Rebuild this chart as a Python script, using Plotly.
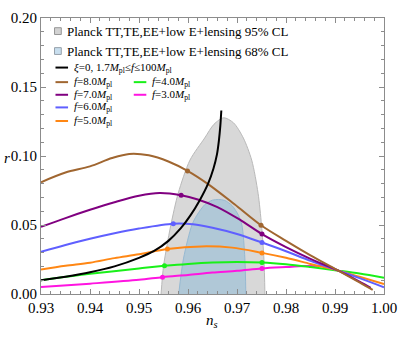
import plotly.graph_objects as go

# ---------------- data ----------------
cl95_ns = [0.9545, 0.9550, 0.9557, 0.9565, 0.9580, 0.9604, 0.9634, 0.9653, 0.9673, 0.9693, 0.9713, 0.9730, 0.9743, 0.9750, 0.9755, 0.9757]
cl95_r = [0.0, 0.020, 0.035, 0.050, 0.073, 0.097, 0.113, 0.123, 0.1277, 0.124, 0.113, 0.097, 0.073, 0.050, 0.025, 0.0]

cl68_ns = [0.9581, 0.9591, 0.9608, 0.9618, 0.9635, 0.9650, 0.9662, 0.9675, 0.9690, 0.9703, 0.9710, 0.9716, 0.9718]
cl68_r = [0.0, 0.026, 0.050, 0.057, 0.065, 0.0680, 0.0685, 0.0678, 0.064, 0.057, 0.050, 0.026, 0.0]

xi0_ns = [0.930, 0.935, 0.940, 0.945, 0.950, 0.953, 0.956, 0.9585, 0.9605, 0.9624, 0.9641, 0.9652, 0.9659, 0.9663, 0.9666, 0.9668]
xi0_r = [0.0099, 0.0125, 0.0157, 0.0200, 0.0262, 0.031, 0.0385, 0.0475, 0.057, 0.068, 0.080, 0.091, 0.101, 0.111, 0.122, 0.133]

f8_ns = [0.930, 0.935, 0.940, 0.9445, 0.948, 0.952, 0.956, 0.9599, 0.9641, 0.9695, 0.9749, 0.980, 0.985, 0.9907, 0.995, 0.9977]
f8_r = [0.081, 0.088, 0.0925, 0.0985, 0.1015, 0.1005, 0.096, 0.0892, 0.0796, 0.065, 0.0498, 0.0385, 0.028, 0.0169, 0.0085, 0.003]

f7_ns = [0.930, 0.935, 0.940, 0.945, 0.950, 0.9542, 0.9586, 0.962, 0.966, 0.9705, 0.9751, 0.980, 0.985, 0.9907, 0.995, 0.9973]
f7_r = [0.0486, 0.055, 0.061, 0.0665, 0.0712, 0.0732, 0.0716, 0.0685, 0.063, 0.054, 0.0434, 0.034, 0.0255, 0.0169, 0.009, 0.0045]

f6_ns = [0.930, 0.935, 0.940, 0.945, 0.950, 0.957, 0.961, 0.965, 0.970, 0.9751, 0.980, 0.985, 0.9907, 0.995, 1.000]
f6_r = [0.0305, 0.0355, 0.040, 0.044, 0.0474, 0.0509, 0.0505, 0.048, 0.0435, 0.0373, 0.031, 0.024, 0.0169, 0.0115, 0.0049]

f5_ns = [0.930, 0.935, 0.940, 0.945, 0.950, 0.9558, 0.9627, 0.969, 0.9751, 0.980, 0.985, 0.9907, 0.995, 1.000]
f5_r = [0.0178, 0.0205, 0.0227, 0.026, 0.0288, 0.0326, 0.0345, 0.0336, 0.0298, 0.0262, 0.0218, 0.0169, 0.0125, 0.0073]

f4_ns = [0.930, 0.940, 0.950, 0.9552, 0.960, 0.965, 0.970, 0.9751, 0.980, 0.985, 0.9907, 0.995, 1.000]
f4_r = [0.0100, 0.0146, 0.0185, 0.0204, 0.0218, 0.0228, 0.0232, 0.0228, 0.0215, 0.0195, 0.0169, 0.0148, 0.0118]

f3_ns = [0.930, 0.940, 0.950, 0.9548, 0.960, 0.965, 0.970, 0.9751, 0.980, 0.984, 0.988]
f3_r = [0.0050, 0.0075, 0.0103, 0.0122, 0.0138, 0.0155, 0.0168, 0.0185, 0.0195, 0.0202, 0.0205]

# marked points on each f curve
f8_mk_ns = [0.9599, 0.9749]; f8_mk_r = [0.0892, 0.0498]
f7_mk_ns = [0.9586, 0.9751]; f7_mk_r = [0.0716, 0.0434]
f6_mk_ns = [0.9570, 0.9751]; f6_mk_r = [0.0509, 0.0373]
f5_mk_ns = [0.9558, 0.9751]; f5_mk_r = [0.0326, 0.0298]
f4_mk_ns = [0.9552, 0.9751]; f4_mk_r = [0.0204, 0.0228]
f3_mk_ns = [0.9548, 0.9751]; f3_mk_r = [0.0122, 0.0185]

x_ticks = [0.93, 0.94, 0.95, 0.96, 0.97, 0.98, 0.99, 1.00]
x_labels = ["0.93", "0.94", "0.95", "0.96", "0.97", "0.98", "0.99", "1.00"]
y_ticks = [0.00, 0.05, 0.10, 0.15, 0.20]
y_labels = ["0.00", "0.05", "0.10", "0.15", "0.20"]

labels_f = ["<i>f</i>=8.0<i>M</i><sub>pl</sub>", "<i>f</i>=7.0<i>M</i><sub>pl</sub>",
            "<i>f</i>=6.0<i>M</i><sub>pl</sub>", "<i>f</i>=5.0<i>M</i><sub>pl</sub>",
            "<i>f</i>=4.0<i>M</i><sub>pl</sub>", "<i>f</i>=3.0<i>M</i><sub>pl</sub>"]
label_xi = "<i>ξ</i>=0, 1.7<i>M</i><sub>pl</sub>≤<i>f</i>≤100<i>M</i><sub>pl</sub>"
label_95 = "Planck TT,TE,EE+low E+lensing 95% CL"
label_68 = "Planck TT,TE,EE+low E+lensing 68% CL"

# ---------------- styling ----------------
W, H = 407, 338
L, R, T, B = 41, 11, 10, 44
PW, PH = W - L - R, H - T - B
FONT = "Liberation Serif"

col_brown = "rgb(160,102,48)"
col_purple = "rgb(128,0,128)"
col_blue = "rgb(95,95,255)"
col_orange = "rgb(255,135,20)"
col_green = "rgb(25,240,25)"
col_magenta = "rgb(255,20,225)"
gray_fill = "rgba(205,205,205,0.78)"
gray_edge = "rgb(185,185,185)"
blue_fill = "rgba(150,190,215,0.6)"
blue_edge = "rgb(150,185,210)"


def px(xp):
    return (xp - L) / PW


def py(yp):
    return (H - B - yp) / PH


fig = go.Figure()

fig.add_trace(go.Scatter(x=cl95_ns, y=cl95_r, fill="toself", fillcolor=gray_fill,
                         mode="lines", line=dict(color=gray_edge, width=1, shape="spline", smoothing=0.8),
                         showlegend=False, hoverinfo="skip"))
fig.add_trace(go.Scatter(x=cl68_ns, y=cl68_r, fill="toself", fillcolor=blue_fill,
                         mode="lines", line=dict(color=blue_edge, width=1, shape="spline", smoothing=0.8),
                         showlegend=False, hoverinfo="skip"))

curves = [
    (f3_ns, f3_r, f3_mk_ns, f3_mk_r, col_magenta),
    (f4_ns, f4_r, f4_mk_ns, f4_mk_r, col_green),
    (f5_ns, f5_r, f5_mk_ns, f5_mk_r, col_orange),
    (f6_ns, f6_r, f6_mk_ns, f6_mk_r, col_blue),
    (f7_ns, f7_r, f7_mk_ns, f7_mk_r, col_purple),
    (f8_ns, f8_r, f8_mk_ns, f8_mk_r, col_brown),
]
for xs, ys, mx, my, c in curves:
    fig.add_trace(go.Scatter(x=xs, y=ys, mode="lines",
                             line=dict(color=c, width=2, shape="spline", smoothing=0.9),
                             showlegend=False))
    fig.add_trace(go.Scatter(x=mx, y=my, mode="markers",
                             marker=dict(color=c, size=5), showlegend=False))

fig.add_trace(go.Scatter(x=xi0_ns, y=xi0_r, mode="lines",
                         line=dict(color="black", width=2, shape="spline", smoothing=0.7),
                         showlegend=False))

# ---------------- manual legend ----------------
shapes = []
annotations = []
for yc, fc, ec, txt in [(23.5, "rgb(210,210,210)", "rgb(150,150,150)", label_95),
                        (44, "rgb(200,222,238)", "rgb(150,160,170)", label_68)]:
    shapes.append(dict(type="rect", xref="paper", yref="paper",
                       x0=px(55), x1=px(62), y0=py(yc + 3.5), y1=py(yc - 3.5),
                       fillcolor=fc, line=dict(color=ec, width=1)))
    annotations.append(dict(xref="paper", yref="paper", x=px(66), y=py(yc), text=txt,
                            showarrow=False, xanchor="left", yanchor="middle",
                            font=dict(family=FONT, size=13, color="black")))

line_entries = [
    (56, 61, "black", label_xi),
    (56, 76, col_brown, labels_f[0]),
    (56, 89, col_purple, labels_f[1]),
    (56, 102, col_blue, labels_f[2]),
    (56, 116, col_orange, labels_f[3]),
    (137, 76, col_green, labels_f[4]),
    (137, 89, col_magenta, labels_f[5]),
]
for x0, yc, c, txt in line_entries:
    shapes.append(dict(type="line", xref="paper", yref="paper",
                       x0=px(x0), x1=px(x0 + 13), y0=py(yc), y1=py(yc),
                       line=dict(color=c, width=2)))
    annotations.append(dict(xref="paper", yref="paper", x=px(x0 + 17), y=py(yc), text=txt,
                            showarrow=False, xanchor="left", yanchor="middle",
                            font=dict(family=FONT, size=11, color="black")))

annotations.append(dict(xref="paper", yref="paper", x=px(6), y=py(154), text="<i>r</i>",
                        showarrow=False, xanchor="center", yanchor="middle",
                        font=dict(family=FONT, size=15, color="black")))
annotations.append(dict(xref="paper", yref="paper", x=px(218), y=py(322), text="<i>n<sub>s</sub></i>",
                        showarrow=False, xanchor="center", yanchor="middle",
                        font=dict(family=FONT, size=15, color="black")))

axis_common = dict(showgrid=False, zeroline=False, showline=True, linecolor="rgb(140,140,140)",
                   linewidth=1, mirror="ticks", ticks="inside", tickcolor="rgb(140,140,140)",
                   ticklen=5, tickwidth=1, ticklabeloverflow="allow",
                   tickfont=dict(family=FONT, size=15, color="black"))

fig.update_xaxes(range=[0.93, 1.00], tickvals=x_ticks, ticktext=x_labels,
                 minor=dict(dtick=0.002, ticks="inside", ticklen=3, tickcolor="rgb(140,140,140)"),
                 **axis_common)
fig.update_yaxes(range=[0.0, 0.20], tickvals=y_ticks, ticktext=y_labels,
                 minor=dict(dtick=0.01, ticks="inside", ticklen=3, tickcolor="rgb(140,140,140)"),
                 **axis_common)

fig.update_layout(width=W, height=H, margin=dict(l=L, r=R, t=T, b=B, pad=0),
                  paper_bgcolor="white", plot_bgcolor="white",
                  shapes=shapes, annotations=annotations, showlegend=False)

fig.write_html("out.html", config={"displayModeBar": False})

# remove the default page margin so the figure sits at the window's top-left corner
with open("out.html", "r", encoding="utf-8") as fh:
    html = fh.read()
html = html.replace("<body>", '<body style="margin:0;padding:0;overflow:hidden;">', 1)
html = html.replace("<head>", "<head><style>html,body{margin:0;padding:0;}</style>", 1)
with open("out.html", "w", encoding="utf-8") as fh:
    fh.write(html)
